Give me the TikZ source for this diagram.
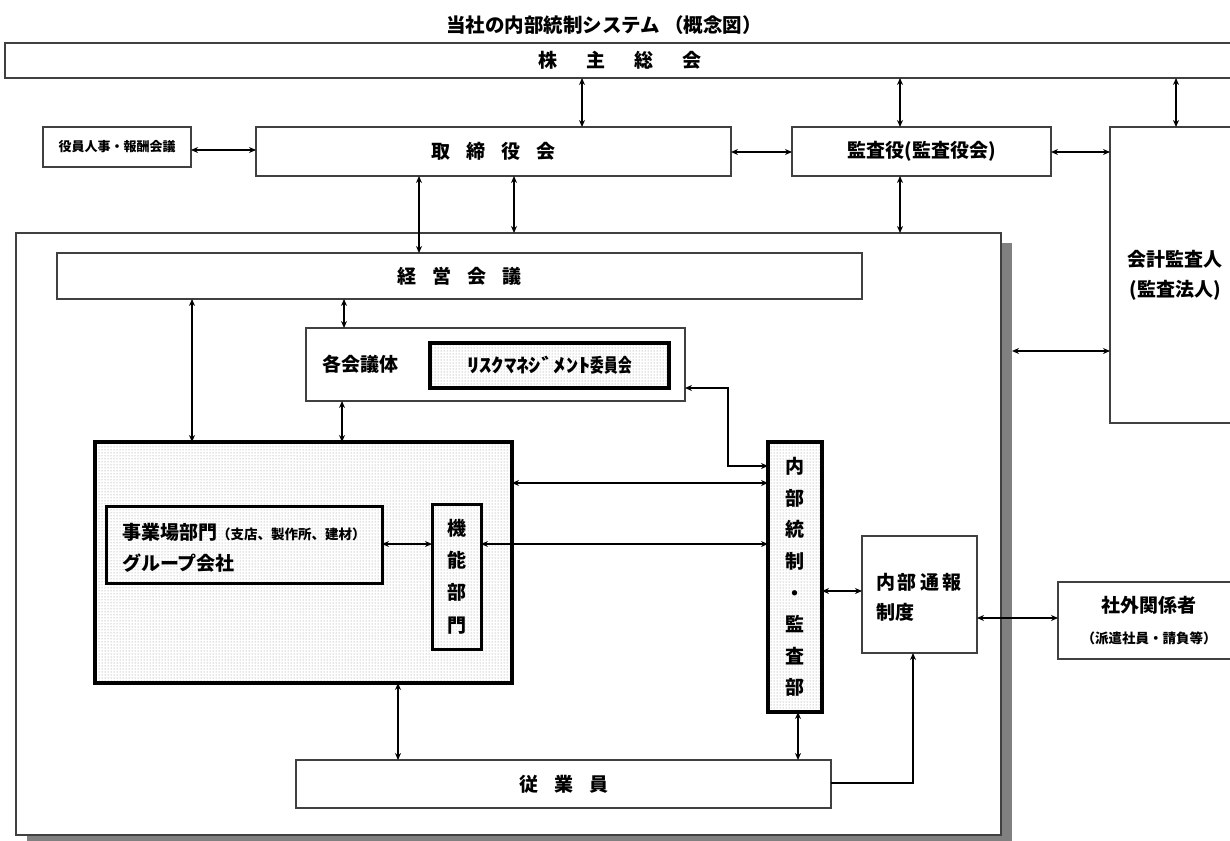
\documentclass[tikz,border=0pt]{standalone}
\usepackage{fontspec}
\usepackage{graphicx}
\setmainfont{Noto Sans CJK JP}
\usetikzlibrary{patterns,arrows.meta}
\newcommand\myfs[1]{\fontsize{#1}{#1}\selectfont}
\tikzset{
  wh/.style 2 args={minimum width=#1pt, minimum height=#2pt},
  box/.style={draw=black!75, line width=1.2pt, fill=white, inner sep=0pt, outer sep=0pt, align=center, font=\bfseries\myfs{19}},
  dbox/.style={draw=black, line width=3.5pt, preaction={fill=white}, pattern=dots, pattern color=black!45, inner sep=0pt, outer sep=0pt, align=center, font=\bfseries\myfs{19}},
  lbl/.style={inner sep=0pt, outer sep=0pt, font=\bfseries\myfs{19}},
  tip/.tip={Stealth[length=7pt,width=6pt]},
  arr/.style={tip-tip, line width=1.3pt, draw=black},
  arrone/.style={-tip, line width=1.3pt, draw=black},
}
\begin{document}
\begin{tikzpicture}[x=1pt,y=-1pt]
\useasboundingbox (0,0) rectangle (1230,840);
% title
\node[font=\bfseries\myfs{19.5}] (title) at (604,25) {当社の内部統制システム （概念図）};
% top row
\node[box, wh={1230}{35}] (kabu) at (620,60.5) {株\hspace{29pt}主\hspace{29pt}総\hspace{29pt}会};
\node[box, wh={148}{40}, font=\bfseries\myfs{13}] (yakuin) at (117,147) {役員人事・報酬会議};
\node[box, wh={475}{49}] (tori) at (493.5,151.5) {取\hspace{16pt}締\hspace{16pt}役\hspace{16pt}会};
\node[box, wh={259}{49}] (kansa) at (921.5,151.5) {監査役(監査役会)};
\node[box, wh={130}{296}, font=\bfseries\fontsize{19}{30}\selectfont] (kaikei) at (1175,275) {会計監査人\\(監査法人)};
% outer frame with shadow
\node[fill=black!50, inner sep=0pt, outer sep=0pt, wh={985}{603}] (shadow) at (519.5,544.5) {};
\node[box, wh={985}{602}] (outer) at (508.5,534) {};
% inside
\node[box, wh={805}{46}] (keiei) at (459.5,276) {経\hspace{16pt}営\hspace{16pt}会\hspace{16pt}議};
\node[box, wh={379}{73}] (kaku) at (495.5,364.5) {};
\node[lbl, anchor=west] (kakut) at ([xshift=16pt]kaku.west) {各会議体};
\node[dbox, wh={239}{45}] (risk) at (549.5,365.5) {\scalebox{1.3}[1]{ﾘｽｸﾏﾈｼﾞﾒﾝﾄ}\scalebox{0.72}[1]{委員会}};
\node[dbox, wh={417}{241}] (jigyo) at (303.5,562.5) {};
\node[dbox, line width=3pt, wh={276}{77}] (jigyobu) at (244,544.5) {};
\node[lbl, anchor=west, align=left, font=\bfseries\fontsize{19}{31}\selectfont] (jigyot) at ([xshift=16pt,yshift=-3pt]jigyobu.west) {事業場部門{\fontsize{13.5}{31}\selectfont （支店、製作所、建材）}\\グループ会社};
\node[dbox, line width=3pt, wh={49}{145}, font=\bfseries\fontsize{19}{32.3}\selectfont] (kinou) at (456.5,576.5) {機\\能\\部\\門};
\node[dbox, wh={54}{270}, font=\bfseries\fontsize{19}{31.6}\selectfont] (naibu) at (795,577) {内\\部\\統\\制\\・\\監\\査\\部};
\node[box, wh={115}{117}] (tsuho) at (919.5,594.5) {};
\node[lbl, anchor=west, align=left, font=\bfseries\fontsize{19}{30}\selectfont] (tsuhot) at ([xshift=14pt,yshift=-2.5pt]tsuho.west) {内\hspace{3pt}部\hspace{3pt}通\hspace{3pt}報\\制度};
\node[box, wh={535}{48}] (jugyo) at (563.5,784) {従\hspace{16pt}業\hspace{16pt}員};
\node[box, wh={182}{77}, font=\bfseries\fontsize{19}{31}\selectfont] (shagai) at (1149,620.5) {社外関係者\\{\fontsize{13.5}{31}\selectfont （派遣社員・請負等）}};
% helper coordinates
\coordinate (xa) at (582,0);
\coordinate (xb) at (900,0);
\coordinate (xc) at (1176,0);
\coordinate (xd) at (419,0);
\coordinate (xe) at (514,0);
\coordinate (xf) at (192,0);
\coordinate (xg) at (344,0);
\coordinate (xh) at (342,0);
\coordinate (xi) at (728,0);
\coordinate (xj) at (398,0);
\coordinate (xk) at (798,0);
\coordinate (xl) at (913,0);
\coordinate (y1) at (0,150);
\coordinate (y2) at (0,152);
\coordinate (y3) at (0,351);
\coordinate (y4) at (0,466);
\coordinate (y5) at (0,388);
\coordinate (y6) at (0,483);
\coordinate (y7) at (0,544);
\coordinate (y8) at (0,591);
\coordinate (y9) at (0,783);
\coordinate (y10) at (0,618);
% connectors
\draw[arr] (kabu.south -| xa) -- (tori.north -| xa);
\draw[arr] (kabu.south -| xb) -- (kansa.north -| xb);
\draw[arr] (kabu.south -| xc) -- (kaikei.north -| xc);
\draw[arr] (yakuin.east |- y1) -- (tori.west |- y1);
\draw[arr] (tori.east |- y2) -- (kansa.west |- y2);
\draw[arr] (kansa.east |- y2) -- (kaikei.west |- y2);
\draw[arr] (tori.south -| xd) -- (keiei.north -| xd);
\draw[arr] (tori.south -| xe) -- (outer.north -| xe);
\draw[arr] (kansa.south -| xb) -- (outer.north -| xb);
\draw[arr] (shadow.east |- y3) -- (kaikei.west |- y3);
\draw[arr] (keiei.south -| xf) -- (jigyo.north -| xf);
\draw[arr] (keiei.south -| xg) -- (kaku.north -| xg);
\draw[arr] (kaku.south -| xh) -- (jigyo.north -| xh);
\draw[arr] (naibu.west |- y4) -- (xi |- y4) -- (xi |- y5) -- (kaku.east |- y5);
\draw[arr] (jigyo.east |- y6) -- (naibu.west |- y6);
\draw[arr] (jigyobu.east |- y7) -- (kinou.west |- y7);
\draw[arr] (kinou.east |- y7) -- (naibu.west |- y7);
\draw[arr] (jigyo.south -| xj) -- (jugyo.north -| xj);
\draw[arr] (naibu.south -| xk) -- (jugyo.north -| xk);
\draw[arr] (naibu.east |- y8) -- (tsuho.west |- y8);
\draw[arrone] (jugyo.east |- y9) -- (xl |- y9) -- (tsuho.south -| xl);
\draw[arr] (tsuho.east |- y10) -- (shagai.west |- y10);
\end{tikzpicture}
\end{document}
